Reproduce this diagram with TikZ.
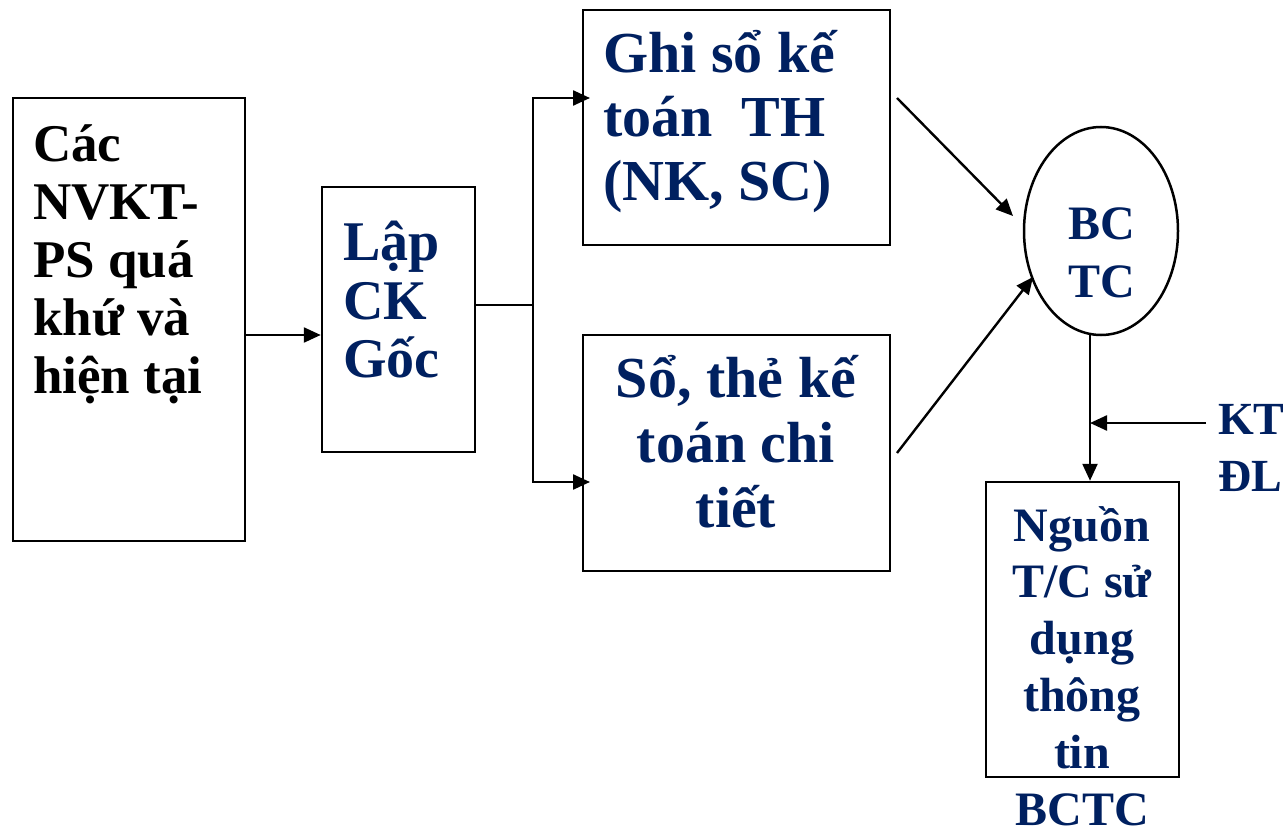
\documentclass[tikz,border=0pt]{standalone}
\usepackage{fontspec}
\setmainfont{Liberation Serif}
\usetikzlibrary{shapes.geometric,arrows.meta}
\definecolor{navy}{RGB}{0,32,96}
\newcommand{\tblock}[4]{\parbox[t]{#3}{\fontsize{#1}{#2}\selectfont\bfseries #4}}
\begin{document}
\begin{tikzpicture}[x=1pt,y=-1pt,
  boxnode/.style={draw=black,line width=2.5pt,rectangle,inner sep=0pt,fill=white},
  ovalnode/.style={draw=black,line width=2.5pt,ellipse,inner sep=0pt},
  txt/.style={inner sep=0pt,anchor=base west,text=navy},
  ctxt/.style={inner sep=0pt,anchor=base,text=navy},
  conn/.style={line width=2.4pt,draw=black},
  arr/.style={conn,-{Triangle[length=17pt,width=15pt]}}]
\useasboundingbox[fill=white] (0,0) rectangle (1286,832);
% boxes
\node[boxnode,minimum width=232pt,minimum height=443pt] (b1) at (129,319.5) {};
\node[boxnode,minimum width=153pt,minimum height=265pt] (b2) at (398.5,319.5) {};
\node[boxnode,minimum width=307pt,minimum height=235pt] (b3) at (736.5,127.5) {};
\node[boxnode,minimum width=307pt,minimum height=236pt] (b4) at (736.5,453) {};
\node[boxnode,minimum width=193pt,minimum height=295pt] (b5) at (1082.5,629.5) {};
\node[ovalnode,minimum width=154pt,minimum height=208pt] (e) at (1101,231) {};
% texts
\node[txt,text=black] (t1) at (33,162) {\tblock{53}{58}{220pt}{\raggedright Các\\NVKT-\\PS quá\\khứ và\\hiện tại}};
\node[txt] (t2) at (343,260) {\tblock{56}{59}{140pt}{\raggedright Lập\\CK\\Gốc}};
\node[txt] (t3) at (603,73) {\tblock{58}{64}{290pt}{\raggedright Ghi sổ kế\\toán~~TH\\(NK, SC)}};
\node[ctxt] (t4) at (736,397) {\tblock{58}{65}{300pt}{\centering Sổ, thẻ kế\\toán chi\\tiết}};
\node[ctxt] (t5) at (1102,240) {\tblock{48}{58}{150pt}{\centering BC\\TC}};
\node[ctxt] (t6) at (1082,541) {\tblock{48}{56.8}{190pt}{\centering Nguồn\\T/C sử\\dụng\\thông\\tin\\BCTC}};
\node[txt] (t7) at (1218,434) {\tblock{46}{57}{150pt}{\raggedright KT\\ĐL}};
% coordinates
\coordinate (a1) at (245,335);
\coordinate (j) at (533,305);
\coordinate (t3in) at (590,98);
\coordinate (t4in) at (590,482);
\coordinate (d1s) at (897,98);
\coordinate (d1e) at (1013,216);
\coordinate (d2s) at (897,453);
\coordinate (d2e) at (1033,277);
\coordinate (v1) at (1090,335);
\coordinate (v2) at (1090,423);
\coordinate (kt) at (1206,423);
% connectors
\draw[arr] (b1.east |- a1) -- (b2.west |- a1);
\draw[conn] (b2.east |- j) -- (j);
\draw[arr] (j) |- (t3in);
\draw[arr] (j) |- (t4in);
\draw[arr] (d1s) -- (d1e);
\draw[arr] (d2s) -- (d2e);
\draw[arr] (v1) -- (b5.north -| v1);
\draw[arr] (kt) -- (v2);
\end{tikzpicture}
\end{document}
